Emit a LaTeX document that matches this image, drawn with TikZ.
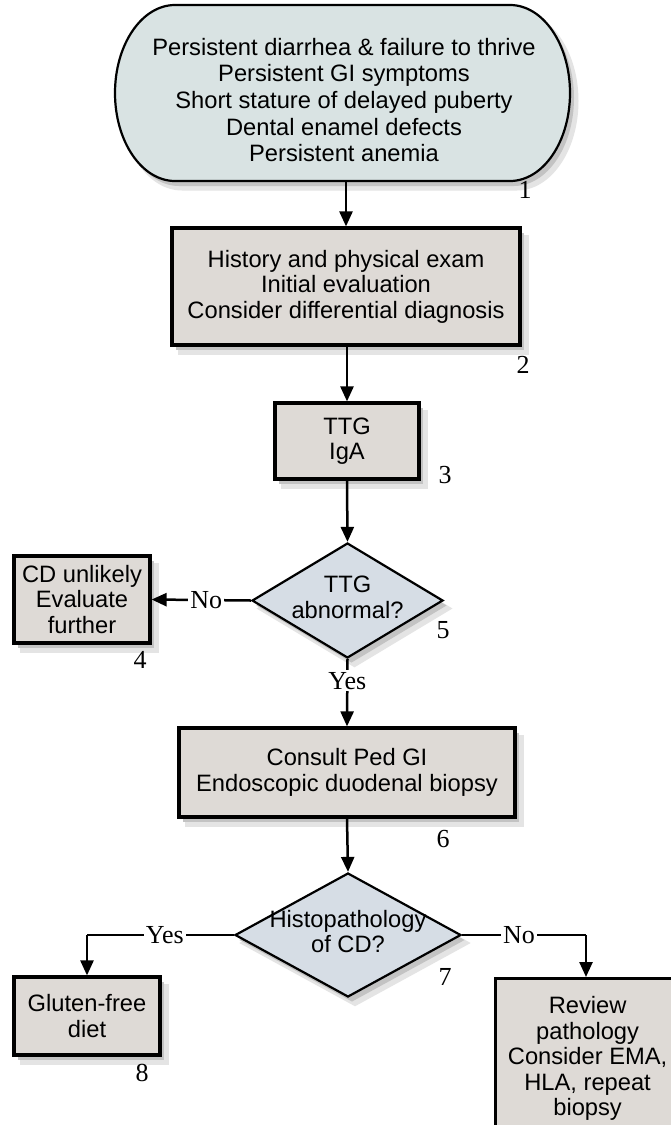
\documentclass[tikz,border=0pt]{standalone}
\usepackage{fontspec}
\setmainfont{Liberation Sans}
\newfontfamily\serifnum{Liberation Serif}
\usetikzlibrary{shapes.geometric,arrows.meta,shadows}
\definecolor{pillfill}{RGB}{217,227,227}
\definecolor{boxfill}{RGB}{222,218,214}
\definecolor{diafill}{RGB}{214,221,229}
\definecolor{shadowA}{RGB}{228,228,228}
\definecolor{shadowB}{RGB}{195,195,195}
\newcommand{\zw}[1]{\makebox[0pt]{\begin{tabular}{@{}c@{}}#1\end{tabular}}}
\tikzset{
  txt/.style={font=\fontsize{23.7}{25.5}\selectfont, align=center},
  softshadow/.style={
    general shadow={shadow xshift=7pt, shadow yshift=-8pt, fill=shadowA, draw=shadowA, line width=3pt},
    general shadow={shadow xshift=4pt, shadow yshift=-5pt, fill=shadowB}},
  stepbox/.style={txt, rectangle, draw=black, line width=3.2pt, fill=boxfill, inner sep=0pt, softshadow},
  decision/.style={txt, diamond, draw=black, line width=2.2pt, fill=diafill, inner sep=0pt, softshadow},
  num/.style={font=\serifnum\fontsize{26}{26}\selectfont, inner sep=0pt},
  lab/.style={font=\serifnum\fontsize{26}{26}\selectfont, fill=white, inner sep=2pt},
  conn/.style={draw=black, line width=2.5pt, -{Triangle[length=15pt,width=13pt]}},
  plain/.style={draw=black, line width=2.5pt}
}
\begin{document}
\begin{tikzpicture}[x=1pt,y=1pt]
\fill[white] (0,0) rectangle (671,-1125);
\useasboundingbox (0,0) rectangle (671,-1125);
% pill (node 1) with shadow
\filldraw[shadowA, line width=3pt] (182,-13) -- (517,-13) arc[start angle=90,end angle=-90,x radius=60,y radius=88] -- (182,-189) arc[start angle=270,end angle=90,x radius=60,y radius=88] -- cycle;
\fill[shadowB] (179,-10) -- (514,-10) arc[start angle=90,end angle=-90,x radius=60,y radius=88] -- (179,-186) arc[start angle=270,end angle=90,x radius=60,y radius=88] -- cycle;
\draw[line width=2.2pt, fill=pillfill] (175,-5) -- (510,-5) arc[start angle=90,end angle=-90,x radius=60,y radius=88] -- (175,-181) arc[start angle=270,end angle=90,x radius=60,y radius=88] -- cycle;
\node[txt, font=\fontsize{23.7}{26.7}\selectfont, minimum width=455pt, minimum height=176pt, inner sep=0pt] (n1) at (344,-100) {Persistent diarrhea \& failure to thrive\\Persistent GI symptoms\\Short stature of delayed puberty\\Dental enamel defects\\Persistent anemia};
\coordinate (n1b) at (346,-181);
\node[stepbox, minimum width=348pt, minimum height=117pt] (n2) at (346,-286.5) {History and physical exam\\Initial evaluation\\Consider differential diagnosis};
\node[stepbox, minimum width=144pt, minimum height=76pt] (n3) at (347,-441) {TTG\\IgA};
\node[decision, minimum width=191pt, minimum height=115pt] (n5) at (347.5,-600.5) {\zw{TTG\\abnormal?}};
\node[stepbox, minimum width=136pt, minimum height=87pt] (n4) at (82,-599.5) {CD unlikely\\Evaluate\\further};
\node[stepbox, minimum width=336pt, minimum height=89pt] (n6) at (347,-772.5) {Consult Ped GI\\Endoscopic duodenal biopsy};
\node[decision, minimum width=226pt, minimum height=124pt] (n7) at (348,-935) {\zw{Histopathology\\of CD?}};
\node[stepbox, minimum width=146pt, minimum height=78pt] (n8) at (87,-1016) {Gluten-free\\diet};
\node[stepbox, minimum width=184pt, minimum height=160pt, anchor=north west] (n9) at (494,-977) {Review\\pathology\\Consider EMA,\\HLA, repeat\\biopsy};
% numbers
\node[num] (l1) at (525,-190) {1};
\node[num] (l2) at (523,-365) {2};
\node[num] (l3) at (445,-475) {3};
\node[num] (l4) at (140,-660) {4};
\node[num] (l5) at (443,-630) {5};
\node[num] (l6) at (443,-839) {6};
\node[num] (l7) at (445,-977) {7};
\node[num] (l8) at (142,-1073) {8};
% connectors
\draw[conn] (n1b) -- (n2.north -| n1b);
\draw[conn] (n2.south -| n3.north) -- (n3.north);
\draw[conn] (n3.south) -- (n5.north);
\draw[conn] (n5.south) -- node[lab, pos=0.32] (yes1) {Yes} (n6.north);
\draw[conn] (n5.west) -- node[lab, pos=0.45] (no1) {No} (n4.east);
\draw[conn] (n6.south) -- (n7.north);
\coordinate (c8) at (n8.north |- n7.west);
\draw[plain] (n7.west) -- node[lab, pos=0.47] (yes2) {Yes} (c8);
\draw[conn] (c8) -- (n8.north);
\coordinate (c9) at (586,-935);
\draw[plain] (n7.east) -- node[lab, pos=0.46] (no2) {No} (c9);
\draw[conn] (c9) -- (c9 |- n9.north);
\end{tikzpicture}
\end{document}
